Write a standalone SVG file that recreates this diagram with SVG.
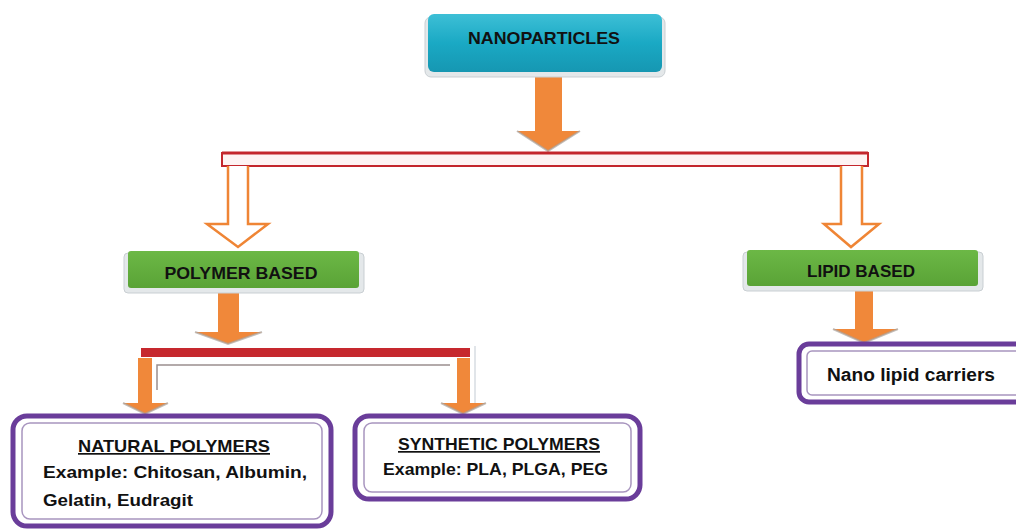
<svg xmlns="http://www.w3.org/2000/svg" width="1016" height="531" viewBox="0 0 1016 531">
<defs>
<linearGradient id="teal" x1="0" y1="0" x2="0" y2="1">
<stop offset="0" stop-color="#3dbfd6"/><stop offset="0.5" stop-color="#1aa9c4"/><stop offset="1" stop-color="#1697b2"/>
</linearGradient>
<linearGradient id="green" x1="0" y1="0" x2="0" y2="1">
<stop offset="0" stop-color="#6cb846"/><stop offset="1" stop-color="#5aa336"/>
</linearGradient>
<style>
.t{font-family:"Liberation Sans",Arial,sans-serif;font-weight:bold;fill:#111;}
.shadow{fill:#e4e8ea;stroke:#c9cfd3;stroke-width:1;}
.purple{fill:#fff;stroke:#6a3d9a;stroke-width:5;}
.inner{fill:none;stroke:#a895bf;stroke-width:1.5;}
.solid{fill:#f0883a;stroke:none;}
.wing{fill:none;stroke:#a9a39c;stroke-width:2;stroke-opacity:0.7;}
.hollow{fill:#fff;stroke:#ef8535;stroke-width:2.5;stroke-linejoin:miter;}
</style>
</defs>
<rect width="1016" height="531" fill="#ffffff"/>

<g id="connectors">
<!-- top arrow -->
<path class="solid" d="M535,74 H562 V131 H580 L548,151 L517,131 H535 Z"/>
<path class="wing" d="M517,131 L548,151 L580,131"/>
<!-- bar 1 -->
<rect x="222" y="153" width="646" height="13" fill="#fdf3f3" stroke="#c3262c" stroke-width="2"/>
<line x1="222" y1="153" x2="868" y2="153" stroke="#c3262c" stroke-width="3"/>
<!-- hollow arrows -->
<path class="hollow" d="M228,166 V224 H207 L238,247 L268,224 H248 V166"/>
<path class="hollow" d="M841,166 V224 H824 L851,247 L879,224 H862 V166"/>
<!-- polymer arrow -->
<path class="solid" d="M218,290 H239 V332 H262 L228,344 L195,332 H218 Z"/>
<path class="wing" d="M195,332 L228,344 L262,332"/>
<!-- bar 2 -->
<rect x="141" y="348" width="329" height="9" fill="#c6282e"/>
<polyline points="157,390 157,365 450,365" fill="none" stroke="#9b8f8f" stroke-width="1.5"/>
<line x1="475" y1="346" x2="475" y2="405" stroke="#d7dde2" stroke-width="1.5"/>
<!-- bar 2 arrows -->
<path class="solid" d="M138,358 H152 V403 H168 L145,414 L123,403 H138 Z"/>
<path class="wing" d="M123,403 L145,414 L168,403"/>
<path class="solid" d="M457,358 H470 V403 H486 L463,414 L441,403 H457 Z"/>
<path class="wing" d="M441,403 L463,414 L486,403"/>
<!-- lipid arrow -->
<path class="solid" d="M855,288 H873 V329 H898 L864,343 L833,329 H855 Z"/>
<path class="wing" d="M833,329 L864,343 L898,329"/>
</g>

<g id="nanoparticles">
<rect class="shadow" x="425" y="17" width="240" height="60" rx="6"/>
<rect x="428" y="14" width="234" height="58" rx="6" fill="url(#teal)"/>
<text class="t" x="544" y="44" font-size="17" text-anchor="middle" textLength="152" lengthAdjust="spacingAndGlyphs">NANOPARTICLES</text>
</g>

<g id="polymer-based">
<rect class="shadow" x="124" y="253" width="240" height="40" rx="4"/>
<rect x="128" y="251" width="231" height="37" rx="3" fill="url(#green)"/>
<text class="t" x="241" y="279" font-size="17" text-anchor="middle" textLength="153" lengthAdjust="spacingAndGlyphs">POLYMER BASED</text>
</g>

<g id="lipid-based">
<rect class="shadow" x="743" y="252" width="240" height="39" rx="4"/>
<rect x="747" y="250" width="231" height="36" rx="3" fill="url(#green)"/>
<text class="t" x="861" y="277" font-size="17" text-anchor="middle" textLength="108" lengthAdjust="spacingAndGlyphs">LIPID BASED</text>
</g>

<g id="nano-lipid-carriers">
<rect class="purple" x="799" y="344" width="232" height="58" rx="10"/>
<rect class="inner" x="807" y="351" width="220" height="44" rx="5"/>
<text class="t" x="911" y="381" font-size="18" text-anchor="middle" textLength="168" lengthAdjust="spacingAndGlyphs">Nano lipid carriers</text>
</g>

<g id="natural-polymers">
<rect class="purple" x="13" y="416" width="318" height="110" rx="14"/>
<rect class="inner" x="22" y="423" width="300" height="96" rx="8"/>
<text class="t" x="174" y="452" font-size="17" text-anchor="middle" textLength="192" lengthAdjust="spacingAndGlyphs" text-decoration="underline">NATURAL POLYMERS</text>
<text class="t" x="43" y="478" font-size="17" textLength="264" lengthAdjust="spacingAndGlyphs">Example: Chitosan, Albumin,</text>
<text class="t" x="43" y="506" font-size="17" textLength="150" lengthAdjust="spacingAndGlyphs">Gelatin, Eudragit</text>
</g>

<g id="synthetic-polymers">
<rect class="purple" x="355" y="416" width="285" height="83" rx="14"/>
<rect class="inner" x="364" y="423" width="267" height="69" rx="8"/>
<text class="t" x="499" y="450" font-size="17" text-anchor="middle" textLength="202" lengthAdjust="spacingAndGlyphs" text-decoration="underline">SYNTHETIC POLYMERS</text>
<text class="t" x="383" y="475" font-size="17" textLength="225" lengthAdjust="spacingAndGlyphs">Example: PLA, PLGA, PEG</text>
</g>
</svg>
